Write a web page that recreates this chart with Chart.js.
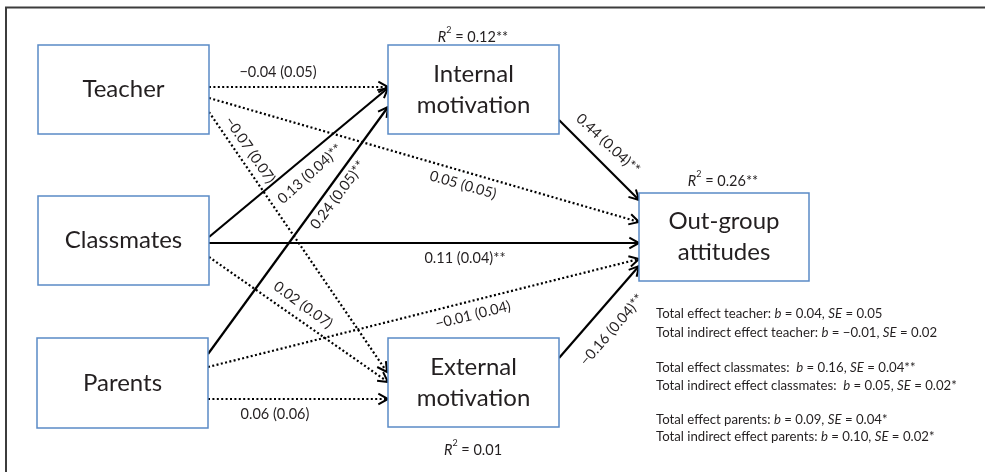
<!DOCTYPE html>
<html><head><meta charset="utf-8">
<script src="https://cdn.jsdelivr.net/npm/chart.js@4/dist/chart.umd.min.js"></script>
<style>html,body{margin:0;padding:0;background:#fff;} #wrap{width:985px;height:472px;position:relative;}</style>
</head><body><div id="wrap"><canvas id="c"></canvas></div>
<script>
// ---------- DATA ----------
const constructs = ['Teacher', 'Classmates', 'Parents', 'Internal\nmotivation', 'External\nmotivation', 'Out-group\nattitudes'];
const pathFrom = [0, 0, 0, 1, 1, 1, 2, 2, 2, 3, 4];
const pathTo   = [3, 5, 4, 3, 5, 4, 3, 5, 4, 5, 5];
const pathB    = ['−0.04', '0.05', '−0.07', '0.13', '0.11', '0.02', '0.24', '−0.01', '0.06', '0.44', '−0.16'];
const pathSE   = ['0.05', '0.05', '0.07', '0.04', '0.04', '0.07', '0.05', '0.04', '0.06', '0.04', '0.04'];
const pathSig  = ['', '', '', '**', '**', '', '**', '', '', '**', '**'];
const r2Node   = [3, 5, 4];
const r2Value  = ['0.12**', '0.26**', '0.01'];
const predictors  = ['teacher', 'classmates', 'parents'];
const totalB      = ['0.04', '0.16', '0.09'];
const totalSE     = ['0.05', '0.04**', '0.04*'];
const indirectB   = ['−0.01', '0.05', '0.10'];
const indirectSE  = ['0.02', '0.02*', '0.02*'];
const gapAfterColon = ['', ' ', ''];

// ---------- LAYOUT (pixel-space coordinates of the diagram) ----------
const nodeBox = [[38,45,209,134],[38,196,209,285],[37,338,208,428],[388,45,559,134],[388,338,559,427],[639,193,809,281]];
const pathStart = [[209,87],[209,98],[209,112],[209,237],[209,243],[209,257],[208,354],[208,367],[208,399],[559,120],[559,358]];
const pathEnd   = [[388,87],[639,222],[387,372],[388,88],[639,243],[388,382],[388,107],[639,259],[388,399],[639,200],[639,266]];
const labelPos  = [[278,72],[463,185],[250,150],[310,174],[465,258],[303,305],[338,195],[473,315],[275,414],[608,144],[612,330]];
const labelAng  = [0,16,55.5,-42,0,36,-53,-14,0,43,-49];
const r2Pos     = [[473,37],[723,181],[473,450]];
const totalsX = 656, totalsY = [314,333,368,386,420,437];

const FONT = 'Lato, "Open Sans", sans-serif';
const TXT = '#231f20';

function drawRich(ctx, segs, x, y, align, size) {
  let w = 0;
  const fontOf = s => (s.i ? 'italic ' : '') + (s.sup ? Math.round(size*0.62) : size) + 'px ' + FONT;
  segs.forEach(s => { ctx.font = fontOf(s); s.w = ctx.measureText(s.t).width; w += s.w; });
  let cx = align === 'center' ? x - w/2 : x;
  ctx.textAlign = 'left'; ctx.textBaseline = 'middle';
  segs.forEach(s => {
    ctx.font = fontOf(s);
    ctx.fillText(s.t, cx, s.sup ? y - size*0.45 : y);
    cx += s.w;
  });
}

const datasets = pathFrom.map((f, i) => ({
  data: [{x: pathStart[i][0], y: pathStart[i][1]}, {x: pathEnd[i][0], y: pathEnd[i][1]}],
  showLine: true, borderColor: '#000', borderWidth: 2.2,
  borderDash: pathSig[i] ? [] : [2, 2.4], pointRadius: 0, fill: false, tension: 0
}));

const diagram = {
  id: 'diagram',
  afterDatasetsDraw(chart) {
    const ctx = chart.ctx, sx = chart.scales.x, sy = chart.scales.y;
    const X = v => sx.getPixelForValue(v), Y = v => sy.getPixelForValue(v);
    ctx.save();
    // frame
    ctx.strokeStyle = '#3c3c3c'; ctx.lineWidth = 2;
    ctx.beginPath(); ctx.moveTo(X(6), Y(472)); ctx.lineTo(X(6), Y(7.5)); ctx.lineTo(X(985), Y(7.5)); ctx.stroke();
    // arrowheads
    ctx.strokeStyle = '#000'; ctx.lineWidth = 2; ctx.setLineDash([]); ctx.lineJoin = 'miter';
    pathFrom.forEach((f, i) => {
      const x1 = X(pathStart[i][0]), y1 = Y(pathStart[i][1]), x2 = X(pathEnd[i][0]), y2 = Y(pathEnd[i][1]);
      const a = Math.atan2(y2 - y1, x2 - x1), L = 11, sp = 0.5;
      ctx.beginPath();
      ctx.moveTo(x2 - L*Math.cos(a - sp), y2 - L*Math.sin(a - sp));
      ctx.lineTo(x2, y2);
      ctx.lineTo(x2 - L*Math.cos(a + sp), y2 - L*Math.sin(a + sp));
      ctx.stroke();
    });
    // boxes
    ctx.strokeStyle = '#5a8ac6'; ctx.lineWidth = 1.5;
    nodeBox.forEach((b, i) => {
      const l = X(b[0]), t = Y(b[1]), r = X(b[2]), btm = Y(b[3]);
      ctx.fillStyle = '#fff'; ctx.fillRect(l, t, r - l, btm - t);
      ctx.strokeRect(l, t, r - l, btm - t);
      ctx.fillStyle = TXT; ctx.font = '24px ' + FONT; ctx.textAlign = 'center'; ctx.textBaseline = 'middle';
      const lines = constructs[i].split('\n'), cx = (l + r)/2, cy = (t + btm)/2;
      lines.forEach((ln, k) => ctx.fillText(ln, cx, cy + (k - (lines.length - 1)/2) * 31));
    });
    // path labels
    ctx.fillStyle = TXT;
    pathFrom.forEach((f, i) => {
      ctx.save();
      ctx.translate(X(labelPos[i][0]), Y(labelPos[i][1]));
      ctx.rotate(labelAng[i] * Math.PI / 180);
      drawRich(ctx, [{t: pathB[i] + ' (' + pathSE[i] + ')' + pathSig[i]}], 0, 0, 'center', 14.5);
      ctx.restore();
    });
    // R squared
    r2Node.forEach((n, i) => {
      drawRich(ctx, [{t: 'R', i: 1}, {t: '2', sup: 1}, {t: ' = ' + r2Value[i]}], X(r2Pos[i][0]), Y(r2Pos[i][1]), 'center', 14.5);
    });
    // totals
    predictors.forEach((p, k) => {
      drawRich(ctx, [{t: 'Total effect ' + p + ': ' + gapAfterColon[k]}, {t: 'b', i: 1}, {t: ' = ' + totalB[k] + ', '}, {t: 'SE', i: 1}, {t: ' = ' + totalSE[k]}],
        X(totalsX), Y(totalsY[2*k]), 'left', 13.2);
      drawRich(ctx, [{t: 'Total indirect effect ' + p + ': ' + gapAfterColon[k]}, {t: 'b', i: 1}, {t: ' = ' + indirectB[k] + ', '}, {t: 'SE', i: 1}, {t: ' = ' + indirectSE[k]}],
        X(totalsX), Y(totalsY[2*k+1]), 'left', 13.2);
    });
    ctx.restore();
  }
};

new Chart(document.getElementById('c'), {
  type: 'scatter',
  data: { datasets },
  options: {
    responsive: true, maintainAspectRatio: false, animation: false, events: [],
    layout: { padding: 0 },
    scales: {
      x: { type: 'linear', min: 0, max: 985, display: false },
      y: { type: 'linear', min: 0, max: 472, reverse: true, display: false }
    },
    plugins: { legend: { display: false }, tooltip: { enabled: false } }
  },
  plugins: [diagram]
});
</script></body></html>
